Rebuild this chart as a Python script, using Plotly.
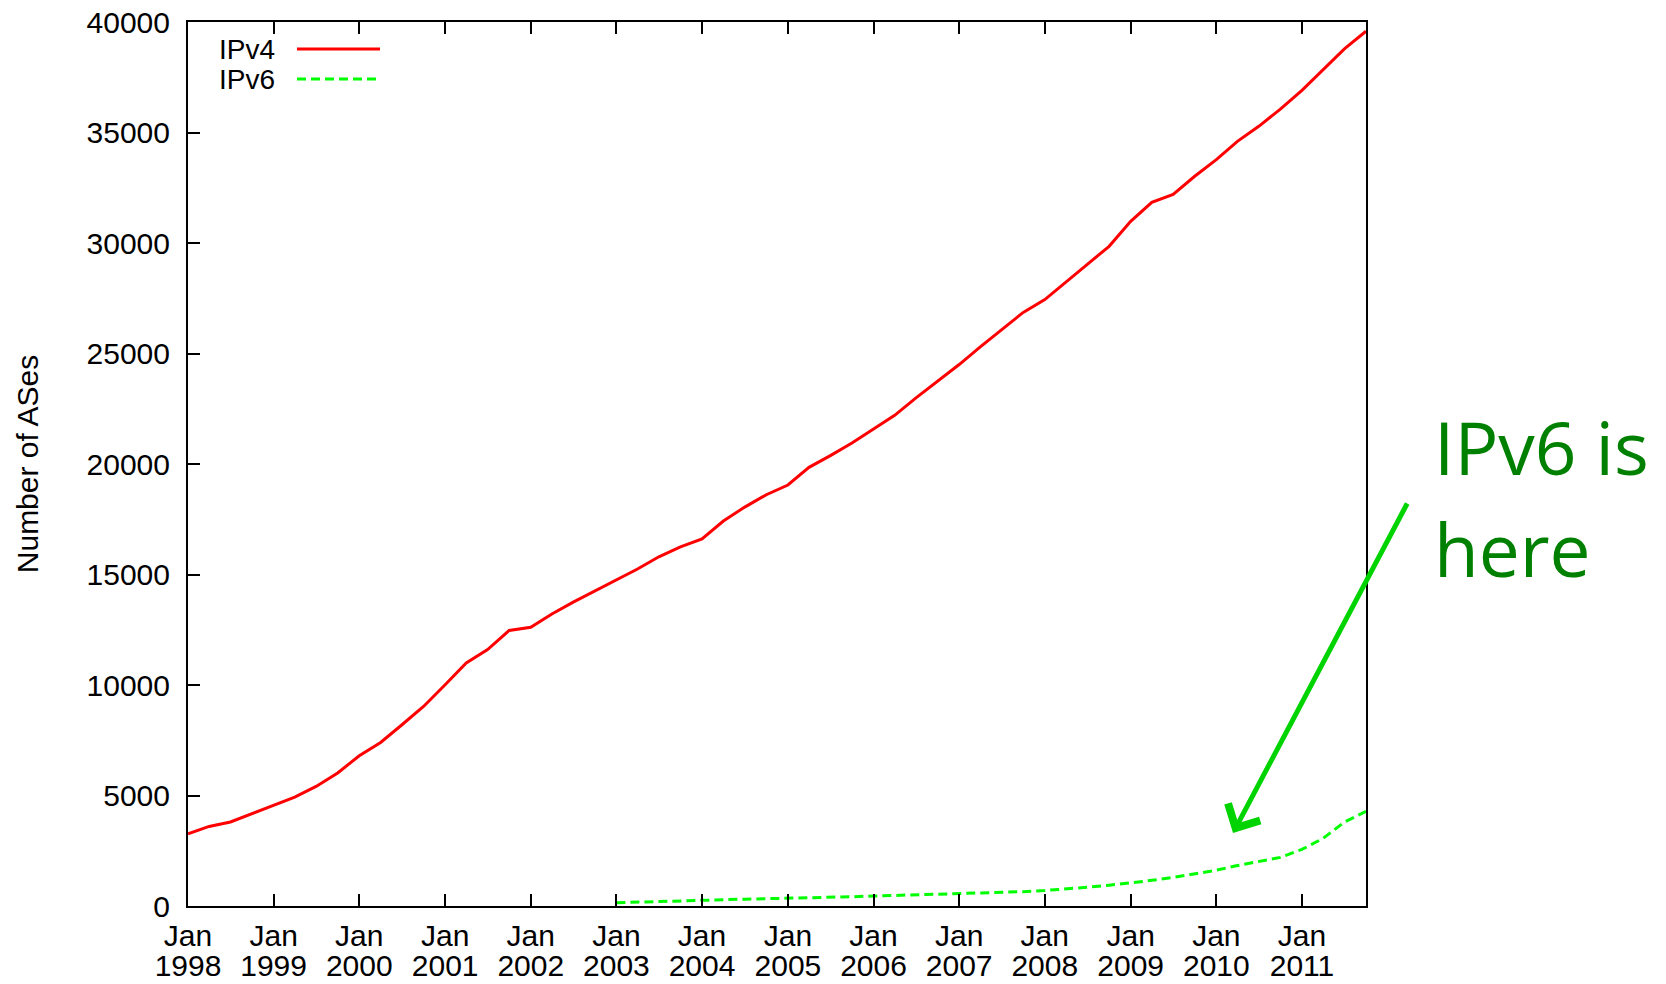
import plotly.graph_objects as go
import pandas as pd

# ---------------- data (quarterly samples) ----------------
ipv4_start = "1998-01-01"
ipv4_values = [
    3270, 3600, 3800, 4180, 4560, 4930, 5410, 6020,
    6800, 7400, 8200, 9030, 10010, 11000, 11600, 12470,
    12610, 13210, 13750, 14250, 14750, 15250, 15800, 16250,
    16610, 17420, 18050, 18610, 19050, 19850, 20380, 20950,
    21580, 22200, 22990, 23740, 24500, 25300, 26080, 26860,
    27440, 28230, 29020, 29850, 30980, 31840, 32200, 33020,
    33770, 34600, 35280, 36060, 36910, 37840, 38780, 39580,
]
ipv6_start = "2003-01-01"
ipv6_values = [
    150, 180, 210, 240, 270, 290, 310, 330,
    345, 370, 395, 420, 450, 475, 500, 530,
    555, 580, 610, 650, 700, 760, 850, 940,
    1040, 1160, 1290, 1440, 1620, 1830, 2020, 2200,
    2560, 3060, 3800, 4280,
]
tick_years = list(range(1998, 2012))
tick_month = "Jan"
y_ticks = list(range(0, 40001, 5000))
series_names = ["IPv4", "IPv6"]
y_title = "Number of ASes"
callout = ["IPv6 is", "here"]

ipv4_dates = pd.date_range(ipv4_start, periods=len(ipv4_values), freq="QS")
ipv6_dates = pd.date_range(ipv6_start, periods=len(ipv6_values), freq="QS")
tick_dates = [f"{y}-01-01" for y in tick_years]

# ---------------- layout geometry (screen pixels) ----------------
BODY = 8                      # default page margin around the figure div
W, H = 1666 - BODY, 984 - BODY
L, R, T, B = 188, 1366, 22, 906   # target plot area on screen
pw, ph = R - L, B - T


def px(x):
    return (x - L) / pw


def py(y):
    return (B - y) / ph


FONT = "Liberation Sans, Arial, sans-serif"
RED = "#ff0000"
GREEN = "#00ff00"

fig = go.Figure()
fig.add_trace(go.Scatter(x=ipv4_dates, y=ipv4_values, mode="lines", name=series_names[0],
                         line=dict(color=RED, width=3)))
fig.add_trace(go.Scatter(x=ipv6_dates, y=ipv6_values, mode="lines", name=series_names[1],
                         line=dict(color=GREEN, width=3, dash="9px,5px")))

x_range = ["1998-01-01", "2011-10-01"]

fig.update_layout(
    template="none",
    width=W, height=H,
    margin=dict(l=L - BODY, r=BODY + W - R, t=T - BODY, b=BODY + H - B, pad=0, autoexpand=False),
    paper_bgcolor="white", plot_bgcolor="white",
    showlegend=False,
    font=dict(family=FONT, size=30, color="black"),
    xaxis=dict(
        range=x_range, tickvals=tick_dates, ticktext=[tick_month] * len(tick_years),
        ticks="inside", ticklen=12, tickwidth=2, tickcolor="black",
        showline=True, linecolor="black", linewidth=2, mirror="ticks",
        showgrid=False, zeroline=False, ticklabelstandoff=2, automargin=False,
        ticklabeloverflow="allow", tickfont=dict(family=FONT, size=30),
    ),
    xaxis2=dict(
        range=x_range, overlaying="x", anchor="y", side="bottom",
        tickvals=tick_dates, ticktext=[str(y) for y in tick_years],
        ticks="", showline=False, showgrid=False, zeroline=False,
        ticklabelstandoff=39, automargin=False, ticklabeloverflow="allow",
        tickfont=dict(family=FONT, size=30),
    ),
    yaxis=dict(
        range=[0, 40000], tickvals=y_ticks, ticktext=[str(v) for v in y_ticks],
        ticks="inside", ticklen=12, tickwidth=2, tickcolor="black",
        showline=True, linecolor="black", linewidth=2, mirror=True,
        showgrid=False, zeroline=False, ticklabelstandoff=10, automargin=False,
        ticklabeloverflow="allow", tickfont=dict(family=FONT, size=30),
        title=dict(text=y_title, font=dict(family=FONT, size=30), standoff=39),
    ),
)

# invisible anchor trace so the second x axis (year labels) is drawn
fig.add_trace(go.Scatter(x=[tick_dates[0]], y=[0], xaxis="x2", mode="markers",
                         marker=dict(opacity=0), hoverinfo="skip", showlegend=False))

# ---------------- gnuplot-style legend (text, then line sample) ----------------
legend_rows = [(49, RED, "solid"), (79, GREEN, "9px,5px")]
for name, (yy, col, dash) in zip(series_names, legend_rows):
    fig.add_shape(type="line", xref="paper", yref="paper",
                  x0=px(297), x1=px(380), y0=py(yy), y1=py(yy),
                  line=dict(color=col, width=3, dash=dash))
    fig.add_annotation(xref="paper", yref="paper", x=px(277), y=py(yy),
                       xanchor="right", yanchor="middle", text=name, showarrow=False,
                       font=dict(family=FONT, size=28, color="black"))

# ---------------- callout ----------------
fig.add_annotation(xref="paper", yref="paper", x=px(1233), y=py(833),
                   ax=175, ay=-331, text="", showarrow=True,
                   arrowhead=4, arrowsize=1.4, arrowwidth=5, arrowcolor="#00d400", standoff=0)
for line_text, base in zip(callout, [477, 579]):
    fig.add_annotation(xref="paper", yref="paper", x=px(1432), y=py(base + 21),
                       xanchor="left", yanchor="bottom", text=line_text, showarrow=False,
                       font=dict(family="Open Sans, sans-serif", size=73, color="#008000"))

fig.write_html("out.html")
